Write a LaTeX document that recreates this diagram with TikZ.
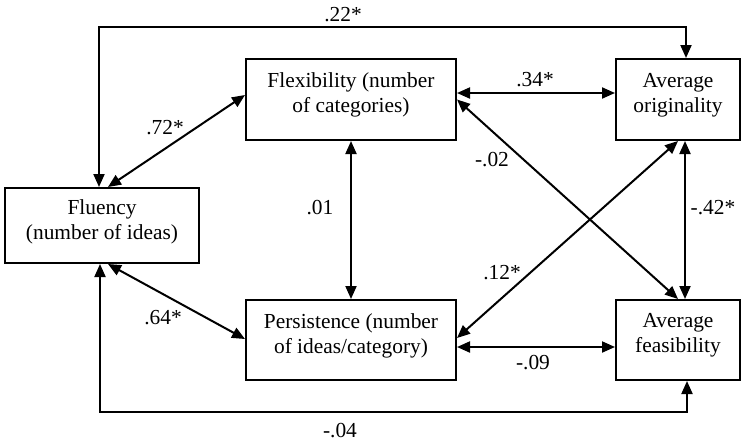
\documentclass[tikz,border=0pt]{standalone}
\usepackage{fontspec}
\setmainfont{Liberation Serif}
\usetikzlibrary{arrows.meta}
\begin{document}
\begin{tikzpicture}[x=1pt,y=-1pt,
  box/.style={draw,line width=2pt,inner sep=0pt},
  txt/.style={align=center,inner sep=0pt,font=\fontsize{21.4}{25}\selectfont},
  lbl/.style={inner sep=0pt,font=\fontsize{21.4}{25}\selectfont},
  conn/.style={line width=2pt,{Triangle[length=13pt,width=11pt]}-{Triangle[length=13pt,width=11pt]}}]
\useasboundingbox (0,0) rectangle (741,442);
\node[box,minimum width=194pt,minimum height=75pt,label={[txt,yshift=4pt]center:{Fluency\\(number of ideas)}}] (flu) at (102,225.5) {};
\node[box,minimum width=210pt,minimum height=81pt,label={[txt,yshift=4.5pt]center:{Flexibility (number\\of categories)}}] (flex) at (351,99.5) {};
\node[box,minimum width=210pt,minimum height=80pt,label={[txt,yshift=4.5pt]center:{Persistence (number\\of ideas/category)}}] (pers) at (351,340) {};
\node[box,minimum width=124pt,minimum height=81pt,label={[txt,yshift=4.5pt]center:{Average\\originality}}] (orig) at (678,99.5) {};
\node[box,minimum width=124pt,minimum height=80pt,label={[txt,yshift=4.5pt]center:{Average\\feasibility}}] (feas) at (678,340) {};
\coordinate (tl) at (99,27);
\coordinate (tr) at (686,27);
\coordinate (bl) at (100,412);
\coordinate (br) at (687,412);
\draw[conn] (flu.north -| tl) -- (tl) -- (tr) -- (orig.north -| tr);
\draw[conn] (flu.south -| bl) -- (bl) -- (br) -- (feas.south -| br);
\draw[conn] ([xshift=6pt]flu.north) -- ([yshift=4.5pt]flex.west);
\draw[conn] ([xshift=6pt]flu.south) -- ([yshift=1pt]pers.west);
\draw[conn] (flex.south) -- (pers.north);
\draw[conn] ([xshift=7pt]orig.south) -- ([xshift=7pt]feas.north);
\draw[conn] ([yshift=6.5pt]flex.east) -- ([yshift=6.5pt]orig.west);
\draw[conn] ([yshift=-7pt]pers.east) -- ([yshift=-7pt]feas.west);
\draw[conn] (flex.east) -- (feas.north);
\draw[conn] (orig.south) -- ([yshift=2pt]pers.east);
\node[lbl] (l22) at (343,15) {.22*};
\node[lbl] (l04) at (340,431) {-.04};
\node[lbl] (l72) at (165,128) {.72*};
\node[lbl] (l64) at (163,318) {.64*};
\node[lbl] (l01) at (320,208) {.01};
\node[lbl] (l34) at (535,80) {.34*};
\node[lbl] (l09) at (533,363) {-.09};
\node[lbl] (l42) at (713,208) {-.42*};
\node[lbl] (l02) at (492,160) {-.02};
\node[lbl] (l12) at (502,273) {.12*};
\end{tikzpicture}
\end{document}
